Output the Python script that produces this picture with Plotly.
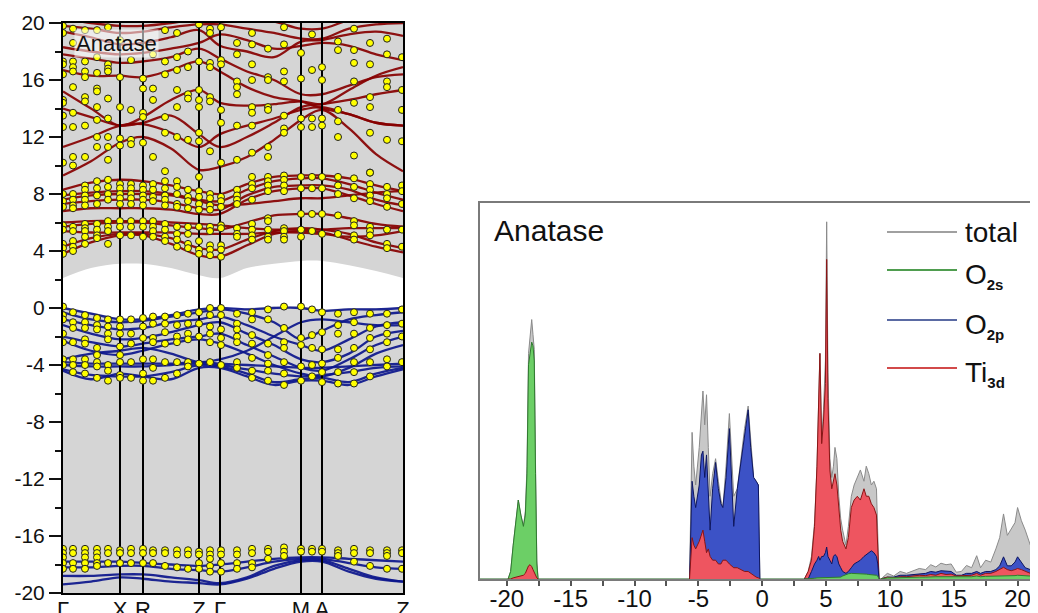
import plotly.graph_objects as go

W, H = 1038, 613
PAGE_MARGIN = 8            # default body margin of the html page
FW, FH = W - PAGE_MARGIN, H - PAGE_MARGIN

# ---------------- band structure (left panel) ----------------
K_PATH = [0, 28, 57, 80, 108, 136, 157, 184, 211, 238, 259, 286, 313, 340]
K_LABEL_POS = [0, 57, 80, 136, 157, 238, 259, 340]
K_LABELS = ['Γ', 'X', 'R', 'Z', 'Γ', 'M', 'A', 'Z']
E_MIN, E_MAX = -20, 20
E_TICKS = [-20, -16, -12, -8, -4, 0, 4, 8, 12, 16, 20]

GAP_LOW = [0.0, -0.3, -0.7, -0.7, -0.4, -0.1, 0.0, 0.0, 0.1, 0.1, -0.1, 0.0, 0.0, 0.0]
GAP_HIGH = [2.1, 2.8, 3.1, 3.1, 2.8, 2.3, 2.1, 2.8, 3.1, 3.3, 3.3, 3.0, 2.6, 2.1]

CB_BANDS = [
    [3.8, 4.6, 5.1, 5.1, 4.5, 3.7, 3.6, 4.4, 5.2, 5.4, 5.3, 4.8, 4.3, 3.9],
    [4.3, 4.9, 5.2, 5.2, 4.9, 4.2, 4.1, 4.8, 5.4, 5.6, 5.5, 5.2, 4.6, 4.2],
    [5.4, 5.3, 5.3, 5.3, 5.3, 5.2, 5.2, 5.2, 5.3, 5.3, 5.2, 5.0, 5.1, 5.4],
    [5.7, 5.9, 6.0, 6.0, 5.8, 5.6, 5.5, 6.0, 6.5, 6.6, 6.6, 6.3, 5.9, 5.7],
    [6.0, 6.1, 6.1, 6.1, 6.0, 5.9, 5.8, 5.6, 5.5, 5.5, 5.5, 5.6, 5.6, 5.6],
    [6.8, 7.0, 7.0, 7.0, 6.9, 6.6, 6.6, 7.6, 8.2, 8.4, 8.4, 7.9, 7.3, 6.8],
    [7.3, 7.5, 7.6, 7.6, 7.4, 7.0, 6.9, 7.9, 8.5, 8.6, 8.6, 8.3, 7.6, 7.2],
    [7.9, 8.1, 8.2, 8.2, 8.0, 7.6, 7.5, 8.3, 8.9, 9.1, 9.1, 8.7, 8.1, 7.6],
    [8.3, 8.8, 9.0, 8.9, 8.6, 8.2, 8.0, 8.7, 9.2, 9.3, 9.3, 9.1, 8.6, 8.2],
    [7.6, 7.9, 8.0, 8.0, 7.9, 7.5, 7.2, 7.3, 7.5, 7.7, 7.7, 7.9, 8.1, 8.2],
    [9.3, 10.3, 11.6, 12.0, 11.2, 9.7, 9.9, 10.6, 11.8, 13.2, 13.9, 12.6, 10.8, 9.6],
    [11.3, 12.0, 12.8, 12.9, 12.3, 11.3, 12.2, 12.8, 13.3, 13.9, 14.1, 13.6, 13.0, 12.8],
    [14.0, 13.4, 12.8, 13.0, 13.5, 12.2, 11.3, 12.0, 13.0, 14.1, 14.3, 14.6, 15.0, 15.3],
    [15.2, 14.0, 12.8, 13.4, 14.6, 15.3, 14.4, 14.2, 14.3, 14.5, 14.3, 15.3, 16.3, 16.9],
    [16.7, 16.3, 16.3, 16.2, 16.7, 17.3, 16.6, 15.5, 14.8, 14.5, 14.0, 13.6, 13.0, 12.8],
    [17.8, 17.5, 17.2, 17.3, 17.6, 18.2, 17.5, 16.6, 16.0, 15.0, 15.0, 15.6, 16.2, 16.4],
    [18.3, 18.0, 17.8, 17.9, 18.2, 18.6, 19.2, 18.8, 18.2, 18.4, 18.6, 18.4, 17.8, 17.4],
    [19.4, 19.0, 18.5, 18.6, 19.0, 19.5, 18.4, 18.0, 17.6, 18.7, 18.8, 19.2, 19.4, 19.1],
    [19.8, 19.6, 19.3, 19.4, 19.7, 19.9, 19.9, 19.6, 19.3, 18.9, 18.9, 19.6, 19.9, 20.0],
    [20.3, 20.0, 19.8, 19.8, 20.0, 20.3, 20.5, 20.3, 20.1, 19.6, 19.6, 20.2, 20.5, 20.6],
]

VB_BANDS = [
    [0.0, -0.4, -0.8, -0.8, -0.5, -0.1, 0.0, -0.1, 0.0, 0.0, -0.2, -0.1, -0.1, 0.0],
    [-0.3, -0.8, -1.0, -0.9, -0.6, -0.3, -0.1, -0.4, -1.0, -2.2, -1.6, -0.8, -0.5, -0.3],
    [-0.8, -1.2, -1.5, -1.4, -1.0, -0.8, -0.6, -1.2, -2.0, -2.6, -3.0, -2.2, -1.3, -1.0],
    [-1.2, -1.8, -2.2, -2.1, -1.7, -1.2, -1.0, -1.8, -2.6, -3.6, -3.8, -3.2, -2.0, -1.6],
    [-2.0, -2.4, -2.7, -2.5, -2.2, -2.0, -1.8, -2.6, -3.4, -4.2, -4.4, -3.6, -2.6, -2.0],
    [-2.3, -3.0, -3.3, -3.0, -2.5, -2.2, -2.5, -3.2, -4.0, -4.6, -4.8, -4.2, -3.2, -2.6],
    [-3.8, -3.9, -3.9, -3.9, -3.9, -3.8, -3.9, -4.0, -4.1, -4.2, -4.2, -4.1, -4.0, -3.9],
    [-4.0, -4.1, -4.1, -4.1, -4.0, -3.9, -4.0, -4.3, -4.6, -4.8, -4.7, -4.5, -4.2, -4.1],
    [-4.3, -4.7, -4.8, -4.8, -4.5, -4.0, -4.1, -4.6, -5.2, -5.0, -4.9, -5.2, -4.6, -4.2],
    [-4.4, -5.0, -4.6, -4.8, -5.0, -4.2, -4.2, -4.8, -5.4, -5.1, -5.1, -5.4, -4.8, -4.3],
    [-3.6, -3.2, -3.0, -2.8, -3.2, -3.8, -3.6, -3.0, -2.0, -1.0, -0.8, -1.0, -1.2, -1.2],
]

SC_BANDS = [
    [-17.8, -17.8, -17.8, -17.9, -18.0, -18.1, -18.0, -17.8, -17.6, -17.5, -17.5, -17.6, -17.7, -17.8],
    [-18.2, -18.2, -18.1, -18.1, -18.3, -18.4, -18.5, -18.2, -17.8, -17.6, -17.6, -17.9, -18.2, -18.3],
    [-18.8, -18.8, -18.7, -18.7, -18.9, -19.1, -19.3, -18.9, -18.1, -17.7, -17.7, -18.3, -18.9, -19.2],
    [-19.4, -19.2, -18.9, -19.0, -19.2, -19.3, -19.4, -19.0, -18.3, -17.8, -17.8, -18.5, -19.0, -19.2],
]

DOT_K = [0, 10, 22, 34, 45, 57, 68, 80, 90, 102, 114, 125, 136, 147, 158,
         174, 189, 205, 221, 238, 249, 259, 275, 291, 307, 324, 339]
DOT_E = [
    [19.8, 19.3, 17.3, 17.1, 16.4, 14.6, 14.4, 13.5, 12.7, 10.2, 8.0, 7.5, 7.1, 5.8, 5.5, 4.5, 4.2, 3.8,
     0.1, -0.5, -0.8, -1.8, -2.4, -3.6, -4.0, -16.9, -17.2, -17.5, -17.9, -18.3],
    [19.6, 18.6, 17.3, 16.9, 16.6, 15.5, 13.7, 12.7, 10.6, 10.0, 8.0, 7.6, 7.2, 7.0, 5.7, 5.4, 4.7, 4.3, 4.0,
     -0.3, -1.0, -1.4, -2.4, -3.6, -4.0, -4.5, -16.9, -17.2, -17.9, -18.3],
    [19.5, 17.3, 16.6, 16.2, 14.8, 14.5, 12.8, 10.6, 8.6, 8.3, 7.9, 7.6, 7.2, 5.9, 5.6, 5.4, 5.0, 4.5,
     -0.5, -1.0, -1.4, -2.2, -2.5, -3.6, -4.0, -4.6, -16.9, -17.2, -17.5, -17.9, -18.3],
    [19.5, 17.6, 16.5, 15.4, 15.2, 14.1, 13.2, 12.0, 11.3, 8.9, 8.4, 7.9, 7.3, 5.9, 5.5, 5.1, 4.9,
     -0.7, -1.2, -1.5, -2.8, -3.3, -3.8, -4.1, -4.9, -16.9, -17.2, -17.5, -17.9, -18.1],
    [19.7, 17.1, 16.8, 16.6, 14.7, 13.3, 12.0, 11.3, 10.4, 9.0, 8.5, 8.0, 7.6, 6.1, 5.7, 5.4, 4.5,
     -0.8, -1.3, -1.8, -2.2, -4.0, -4.4, -5.1, -16.9, -17.2, -17.9],
    [18.8, 16.2, 14.1, 11.9, 11.4, 8.7, 8.4, 8.0, 7.7, 7.3, 6.1, 5.7, 5.1,
     -0.8, -1.3, -1.8, -2.7, -3.3, -3.8, -4.7, -4.9, -17.0, -17.2, -17.9],
    [17.4, 13.9, 11.8, 11.5, 8.7, 8.4, 8.0, 7.7, 7.3, 6.1, 5.7, 5.1,
     -0.8, -1.8, -2.5, -3.8, -4.9, -16.9, -17.2, -17.9],
    [16.1, 15.4, 13.7, 13.4, 11.6, 8.6, 8.3, 7.9, 7.6, 7.2, 6.1, 5.7, 5.0,
     -0.7, -1.3, -2.1, -3.6, -4.6, -5.1, -16.9, -17.2, -17.9],
    [17.8, 15.4, 14.6, 10.6, 8.7, 8.3, 7.8, 7.5, 6.1, 5.7, 5.4, 5.0,
     -0.6, -1.1, -2.1, -2.4, -3.6, -4.2, -5.1, -17.0, -17.2, -17.9],
    [19.5, 17.3, 16.4, 13.4, 12.3, 9.6, 8.9, 8.4, 7.9, 7.6, 7.2, 5.9, 5.5, 5.0, 4.7,
     -0.6, -1.1, -1.7, -2.5, -3.8, -4.9, -17.0, -17.2, -18.1],
    [19.3, 17.6, 16.7, 15.3, 14.1, 12.0, 8.9, 8.5, 8.0, 7.3, 7.1, 5.7, 5.2, 4.8, 4.3,
     -0.5, -1.2, -2.0, -2.4, -3.8, -4.6, -17.0, -17.3, -18.2],
    [18.0, 16.9, 15.0, 14.7, 11.8, 8.3, 7.8, 7.5, 7.0, 5.7, 5.2, 4.5, 4.2,
     -0.4, -1.1, -1.8, -2.2, -3.8, -4.1, -17.0, -17.3, -18.3],
    [19.9, 17.3, 15.3, 14.6, 14.1, 12.3, 11.7, 9.2, 8.2, 7.8, 7.3, 6.9, 5.7, 4.7, 4.1, 3.8,
     -0.3, -1.1, -2.0, -3.9, -17.1, -17.3, -17.9, -18.3],
    [19.6, 19.3, 17.2, 16.9, 14.8, 14.5, 11.0, 8.0, 7.7, 7.2, 6.9, 5.7, 5.4, 4.4, 4.1, 3.7,
     0.0, -0.5, -1.3, -1.8, -2.4, -3.8, -17.0, -17.3, -17.6, -18.1, -18.5],
    [19.7, 17.4, 17.1, 13.9, 13.0, 10.2, 7.8, 7.5, 7.1, 5.8, 5.6, 4.4, 4.1, 3.6,
     0.0, -0.5, -1.5, -2.1, -2.6, -4.0, -17.0, -17.3, -17.9, -18.5],
    [18.6, 17.8, 15.9, 15.5, 15.0, 12.8, 10.4, 8.3, 7.9, 7.6, 7.3, 5.6, 5.2, 5.0,
     -0.4, -1.1, -1.5, -2.0, -2.4, -3.8, -4.2, -17.0, -17.3, -17.9, -18.3],
    [19.3, 18.5, 17.1, 16.0, 14.1, 13.7, 12.8, 10.9, 9.2, 8.7, 8.4, 7.6, 5.9, 5.5, 5.1, 4.8,
     -0.3, -0.8, -1.9, -2.5, -3.5, -4.4, -4.9, -16.9, -17.2, -17.9, -18.2],
    [18.2, 16.2, 16.0, 14.1, 13.9, 11.3, 10.6, 9.2, 8.9, 8.6, 8.2, 6.3, 6.1, 5.5, 5.0, 4.8,
     -0.1, -0.8, -2.5, -3.3, -3.9, -4.4, -5.1, -16.9, -17.1, -17.6],
    [19.7, 18.5, 16.6, 15.9, 13.5, 12.6, 12.3, 9.3, 9.0, 8.6, 8.2, 5.6, 5.4, 5.0, 4.8,
     0.1, -1.4, -2.4, -2.8, -3.8, -4.6, -5.4, -16.8, -17.1, -17.4],
    [17.9, 16.1, 13.3, 12.7, 9.2, 8.4, 6.6, 5.5, 5.0,
     0.1, -2.1, -2.6, -4.1, -5.1, -16.9, -17.1],
    [19.2, 16.7, 13.3, 12.7, 9.2, 8.4, 6.6, 5.4,
     -0.1, -1.9, -2.8, -4.0, -4.8, -16.9, -17.1],
    [16.9, 16.0, 13.3, 12.8, 9.2, 8.4, 6.6, 5.2,
     -0.3, -1.7, -2.9, -3.9, -4.5, -5.2, -16.9, -17.1],
    [18.7, 18.1, 13.9, 13.1, 12.0, 9.2, 8.6, 8.0, 6.5, 5.2,
     -0.4, -1.2, -1.8, -2.9, -3.5, -4.5, -5.3, -17.0, -17.2, -17.4],
    [19.6, 18.1, 17.2, 15.9, 14.4, 10.7, 9.1, 8.5, 7.7, 6.1, 5.8, 5.1, 4.8,
     -0.3, -1.0, -1.8, -2.8, -3.8, -4.5, -5.3, -16.9, -17.2, -17.8],
    [18.6, 17.1, 14.8, 14.1, 12.3, 9.5, 9.5, 8.7, 8.3, 7.9, 7.5, 5.7, 5.4, 5.1,
     -0.4, -1.4, -2.1, -2.9, -3.8, -4.8, -17.0, -17.2, -18.1],
    [18.9, 17.8, 15.9, 15.5, 11.8, 8.5, 8.0, 7.7, 7.1, 5.5, 4.5, 4.2,
     -0.4, -1.2, -1.8, -2.4, -3.6, -4.1, -17.0, -17.2, -17.4, -18.3],
    [17.6, 15.3, 13.9, 11.7, 8.6, 8.2, 7.3, 5.5, 4.3,
     -0.1, -1.1, -2.0, -3.8, -17.0, -17.2, -18.3],
]

# ---------------- density of states (right panel) ----------------
DOS_X_RANGE = [-22.1, 21.6]
DOS_Y_RANGE = [0, 100]
DOS_TICKS = [-20, -15, -10, -5, 0, 5, 10, 15, 20]

# O 2s region
E_S = [-19.9, -19.7, -19.5, -19.25, -19.1, -18.9, -18.7, -18.55, -18.42, -18.3, -18.18, -18.05,
       -17.95, -17.85, -17.75, -17.65, -17.55]
TOT_S = [0, 2, 9, 16, 21, 17, 14, 18, 30, 60, 64, 69, 65, 61, 30, 5, 0]
O2S_S = [0, 2, 9, 16, 21, 17, 14, 17, 28, 57, 60, 63, 62, 58, 28, 4, 0]
TI_S = [0, 0, 0.3, 0.5, 0.7, 0.8, 1.0, 1.5, 2.5, 3.5, 3.8, 3.3, 2.5, 1.6, 0.8, 0.3, 0]

# valence band region
E_V = [-5.69, -5.58, -5.49, -5.35, -5.21, -4.93, -4.76, -4.64, -4.5, -4.36, -4.22, -4.08, -3.88,
       -3.65, -3.43, -3.23, -3.08, -2.83, -2.57, -2.4, -2.23, -1.95, -1.66, -1.38, -1.1, -0.9,
       -0.67, -0.47, -0.3, -0.18]
TOT_V = [0, 25, 39, 30, 25, 35, 46, 50, 41, 49, 35, 22, 28, 32, 26, 21, 19, 30, 44, 32, 22, 24,
         32, 40, 46, 36, 27, 26, 25, 0]
O2P_V = [0, 18, 26, 22, 19, 25, 33, 34, 27, 33, 22, 13, 24, 31, 24, 20, 19, 27, 40, 26, 14, 24,
         31, 39, 45, 35, 27, 26, 25, 0]
TI_V = [0, 8, 11, 9, 8, 10, 12, 13, 10, 7, 8, 6, 5, 5, 4, 4, 5, 5, 4, 3.5, 3, 3, 2.5, 2, 2, 1.5,
        1, 0.5, 0.3, 0]

# conduction band region
E_C = [3.3, 3.6, 3.86, 4.1, 4.29, 4.42, 4.52, 4.66, 4.8, 4.95, 5.05, 5.15, 5.3, 5.45, 5.58, 5.7,
       5.85, 6.0, 6.15, 6.3, 6.56, 6.75, 6.98, 7.2, 7.45, 7.69, 7.97, 8.15, 8.35, 8.55, 8.75,
       8.95, 9.05, 9.15]
TOT_C = [0, 2, 6, 15, 30, 52, 60, 37, 45, 58, 95, 55, 32, 27, 30, 35, 32, 22, 16, 13, 9, 14, 22,
         25, 27, 29, 26, 30, 28, 25, 26, 24, 12, 0]
TI_C = [0, 2, 5, 14, 30, 52, 60, 36, 42, 52, 85, 48, 29, 24, 26, 28, 25, 18, 13, 10, 8, 11, 19,
        21, 22, 21, 24, 22, 22, 20, 19, 17, 10, 0]
O2P_C = [0, 0, 2, 4, 5, 6, 5, 6, 6, 7, 8.5, 6, 5, 4, 6, 6.5, 6, 4, 3, 2, 1.5, 2, 3, 4, 4.5, 5,
         6, 6.5, 7, 7.5, 7, 6, 4, 0]
O2S_C = [0, 0, 0, 0.2, 0.3, 0.3, 0.3, 0.3, 0.3, 0.3, 0.4, 0.3, 0.3, 0.3, 0.3, 0.3, 0.4, 0.4,
         0.5, 0.8, 1.2, 1.4, 1.5, 1.5, 1.4, 1.4, 1.3, 1.3, 1.2, 1.2, 1.1, 1.0, 0.8, 0]

# high-energy region
E_H = [9.3, 9.8, 10.3, 10.8, 11.3, 11.8, 12.3, 12.8, 13.2, 13.6, 14.0, 14.4, 14.8, 15.2, 15.6,
       16.0, 16.4, 16.8, 17.1, 17.5, 17.9, 18.3, 18.6, 18.9, 19.2, 19.5, 19.8, 20.0, 20.3, 20.6,
       21.0, 21.4, 21.8]
TOT_H = [0, 1.5, 0.8, 2.0, 1.5, 2.2, 2.8, 2.5, 3.8, 3.2, 4.2, 3.8, 4.0, 1.8, 2.0, 3.6, 3.0, 6.2,
         3.0, 5.0, 4.5, 8.0, 11.0, 17.3, 11.6, 13.3, 15.0, 19.0, 15.5, 13.0, 9.0, 7.0, 6.0]
O2P_H = [0, 0.5, 0.5, 1.0, 1.0, 1.2, 1.5, 1.5, 2.0, 1.8, 2.2, 2.0, 2.0, 1.0, 1.0, 1.5, 1.5, 2.0,
         1.5, 2.0, 2.0, 2.5, 3.5, 5.9, 3.5, 3.5, 4.5, 5.9, 4.5, 3.0, 2.5, 2.0, 2.0]
TI_H = [0, 0.5, 0.3, 0.6, 0.6, 0.8, 1.0, 0.9, 1.2, 1.0, 1.5, 1.2, 1.3, 0.8, 0.8, 1.0, 1.0, 1.5,
        1.0, 1.5, 1.5, 2.0, 2.5, 3.1, 2.5, 2.2, 2.5, 2.8, 2.5, 2.0, 1.5, 1.5, 1.5]
O2S_H = [0, 0.3, 0.3, 0.4, 0.4, 0.5, 0.5, 0.5, 0.6, 0.6, 0.6, 0.6, 0.5, 0.5, 0.5, 0.6, 0.6,
         0.8, 0.6, 0.7, 0.7, 0.8, 0.8, 0.9, 0.8, 0.8, 0.9, 1.0, 0.9, 0.8, 0.7, 0.7, 0.7]

LEGEND_NAMES = ['total',
                'O<sub><span style="font-size:15px"><b>2s</b></span></sub>',
                'O<sub><span style="font-size:15px"><b>2p</b></span></sub>',
                'Ti<sub><span style="font-size:15px"><b>3d</b></span></sub>']

# ---------------- styles ----------------
FONT = 'Liberation Sans, Arial, sans-serif'
C_CB = 'rgba(135,0,0,0.92)'
C_VB = 'rgba(12,22,140,0.92)'
GRAY_FILL, GRAY_LINE = '#c8c8c8', '#8a8a8a'
GREEN_FILL, GREEN_LINE = '#6ccf66', '#2f7a2f'
BLUE_FILL, BLUE_LINE = '#3c52c6', '#0d1660'
RED_FILL, RED_LINE = '#ee5560', '#8a1515'
LEG_COLORS = ['#a0a0a0', '#4f9d4f', '#5a6aa3', '#d24a4a']

fig = go.Figure()

# band gap (white) over gray background
fig.add_trace(go.Scatter(x=K_PATH, y=GAP_LOW, mode='lines', line=dict(width=0, shape='spline'),
                         hoverinfo='skip', showlegend=False, xaxis='x', yaxis='y'))
fig.add_trace(go.Scatter(x=K_PATH, y=GAP_HIGH, mode='lines', line=dict(width=0, shape='spline'),
                         fill='tonexty', fillcolor='white', hoverinfo='skip', showlegend=False,
                         xaxis='x', yaxis='y'))

for band in CB_BANDS:
    fig.add_trace(go.Scatter(x=K_PATH, y=band, mode='lines',
                             line=dict(color=C_CB, width=2.3, shape='spline', smoothing=1.0),
                             hoverinfo='skip', showlegend=False, xaxis='x', yaxis='y'))
for band in VB_BANDS + SC_BANDS:
    fig.add_trace(go.Scatter(x=K_PATH, y=band, mode='lines',
                             line=dict(color=C_VB, width=2.3, shape='spline', smoothing=1.0),
                             hoverinfo='skip', showlegend=False, xaxis='x', yaxis='y'))

# high-symmetry vertical lines
vx, vy = [], []
for k in K_LABEL_POS[1:-1]:
    vx += [k, k, None]
    vy += [E_MIN, E_MAX, None]
fig.add_trace(go.Scatter(x=vx, y=vy, mode='lines', line=dict(color='black', width=2),
                         hoverinfo='skip', showlegend=False, xaxis='x', yaxis='y'))

# yellow points
dx, dy = [], []
for k, es in zip(DOT_K, DOT_E):
    for e in es:
        dx.append(k)
        dy.append(e)
fig.add_trace(go.Scatter(x=dx, y=dy, mode='markers',
                         marker=dict(color='#ffff00', size=7, line=dict(color='#202020', width=1)),
                         hoverinfo='skip', showlegend=False, xaxis='x', yaxis='y'))

# ---------------- DOS ----------------
def dos(x, y, fill, line):
    fig.add_trace(go.Scatter(x=x, y=y, mode='lines', fill='tozeroy', fillcolor=fill,
                             line=dict(color=line, width=1), hoverinfo='skip', showlegend=False,
                             xaxis='x2', yaxis='y2'))

fig.add_trace(go.Scatter(x=DOS_X_RANGE, y=[0, 0], mode='lines', line=dict(color='#8fb08f', width=2),
                         hoverinfo='skip', showlegend=False, xaxis='x2', yaxis='y2'))
dos(E_S, TOT_S, GRAY_FILL, GRAY_LINE)
dos(E_S, O2S_S, GREEN_FILL, GREEN_LINE)
dos(E_S, TI_S, RED_FILL, RED_LINE)

dos(E_V, TOT_V, GRAY_FILL, GRAY_LINE)
dos(E_V, O2P_V, BLUE_FILL, BLUE_LINE)
dos(E_V, TI_V, RED_FILL, RED_LINE)

dos(E_C, TOT_C, GRAY_FILL, GRAY_LINE)
dos(E_C, TI_C, RED_FILL, RED_LINE)
dos(E_C, O2P_C, BLUE_FILL, BLUE_LINE)
dos(E_C, O2S_C, GREEN_FILL, GREEN_LINE)

dos(E_H, TOT_H, GRAY_FILL, GRAY_LINE)
dos(E_H, O2P_H, BLUE_FILL, BLUE_LINE)
dos(E_H, TI_H, RED_FILL, RED_LINE)
dos(E_H, O2S_H, GREEN_FILL, GREEN_LINE)

# ---------------- layout ----------------
# screen pixel -> paper coordinate (the page has an 8 px body margin)
def px_x(p):
    return (p - PAGE_MARGIN) / FW

def px_y(p):
    return (FH - (p - PAGE_MARGIN)) / FH

shapes = [dict(type='rect', xref='x domain', yref='y domain', x0=0, x1=1, y0=0, y1=1,
               fillcolor='#d5d5d5', line=dict(width=0), layer='below')]
annotations = [
    dict(text='Anatase', xref='paper', yref='paper', x=px_x(74), y=px_y(44), xanchor='left',
         yanchor='middle', showarrow=False, font=dict(family=FONT, size=22, color='#111'),
         bgcolor='rgba(255,255,255,0.55)', borderpad=1),
    dict(text='Anatase', xref='paper', yref='paper', x=px_x(492), y=px_y(230), xanchor='left',
         yanchor='middle', showarrow=False, font=dict(family=FONT, size=30, color='#111')),
]
leg_y = [232, 270, 320, 368]
for name, col, ly in zip(LEGEND_NAMES, LEG_COLORS, leg_y):
    shapes.append(dict(type='line', xref='paper', yref='paper', x0=px_x(887), x1=px_x(957),
                       y0=px_y(ly), y1=px_y(ly), line=dict(color=col, width=2)))
    annotations.append(dict(text=name, xref='paper', yref='paper', x=px_x(963),
                            y=px_y(ly if name == 'total' else ly + 6), xanchor='left',
                            yanchor='middle', showarrow=False,
                            font=dict(family=FONT, size=28, color='#111')))

fig.update_layout(
    width=FW, height=FH, autosize=False,
    margin=dict(l=0, r=0, t=0, b=0, autoexpand=False),
    paper_bgcolor='white', plot_bgcolor='rgba(0,0,0,0)',
    showlegend=False,
    font=dict(family=FONT, color='#111'),
    shapes=shapes, annotations=annotations,
    xaxis=dict(domain=[px_x(63), px_x(403)], range=[K_PATH[0], K_PATH[-1]],
               tickmode='array', tickvals=K_LABEL_POS, ticktext=K_LABELS, ticks='',
               ticklabelstandoff=-4,
               tickfont=dict(size=22, family=FONT, color='#111'),
               showline=True, mirror=True, linecolor='black', linewidth=2,
               showgrid=False, zeroline=False, anchor='y', automargin=False),
    yaxis=dict(domain=[px_y(593), px_y(23)], range=[E_MIN, E_MAX],
               tickmode='array', tickvals=E_TICKS, ticktext=[str(v) for v in E_TICKS],
               ticks='outside', ticklen=12, tickwidth=2, tickcolor='#111',
               minor=dict(dtick=2, tick0=0, ticks='outside', ticklen=6, tickwidth=2, tickcolor='#111'),
               tickfont=dict(size=21, family=FONT, color='#111'),
               showline=True, mirror=True, linecolor='black', linewidth=2,
               showgrid=False, zeroline=False, anchor='x', automargin=False),
    xaxis2=dict(domain=[px_x(480), 1.0], range=DOS_X_RANGE,
                tickmode='array', tickvals=DOS_TICKS, ticktext=[str(v) for v in DOS_TICKS],
                ticks='outside', ticklen=5, tickwidth=1.5, tickcolor='#555',
                ticklabelstandoff=-8,
                minor=dict(dtick=2.5, tick0=0, ticks='outside', ticklen=5, tickwidth=1.5, tickcolor='#555'),
                tickfont=dict(size=24, family=FONT, color='#111'),
                showline=True, mirror=True, linecolor='#7a7a7a', linewidth=1.5,
                showgrid=False, zeroline=False, anchor='y2', automargin=False),
    yaxis2=dict(domain=[px_y(579), px_y(203)], range=DOS_Y_RANGE, showticklabels=False, ticks='',
                showline=True, mirror=True, linecolor='#7a7a7a', linewidth=1.5,
                showgrid=False, zeroline=False, anchor='x2', automargin=False),
)

fig.write_html('out.html')
